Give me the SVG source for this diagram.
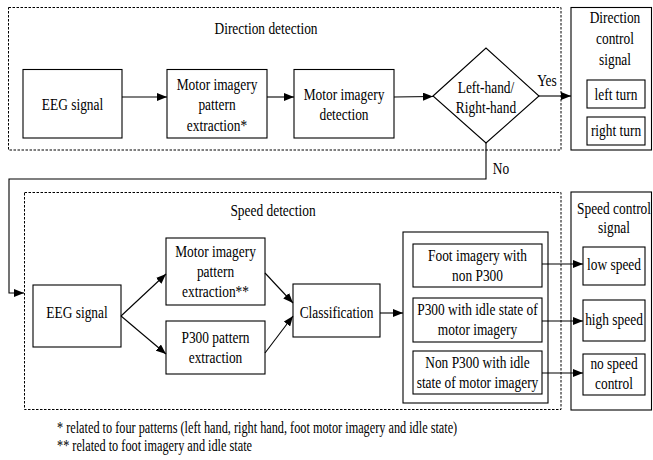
<svg xmlns="http://www.w3.org/2000/svg" width="653" height="460" viewBox="0 0 653 460">
<defs>
<style>
.bx{fill:#fff;stroke:#000;stroke-width:1.1}
.ds{fill:none;stroke:#000;stroke-width:1;stroke-dasharray:2.5 1.5}
.ln{fill:none;stroke:#000;stroke-width:1.1}
.t{font-family:'Liberation Serif',Tinos,'Times New Roman',serif;font-size:17.5px;fill:#000;text-anchor:middle}
.f{font-family:'Liberation Serif',Tinos,'Times New Roman',serif;font-size:16px;fill:#000}
</style>
<marker id="ah" markerWidth="10" markerHeight="8" refX="10" refY="4" orient="auto" markerUnits="userSpaceOnUse">
<path d="M0,0 L10,4 L0,8 Z" fill="#000"/>
</marker>
</defs>
<rect width="653" height="460" fill="#fff"/>

<g id="direction-detection">
<rect class="ds" x="8.5" y="7.5" width="552.5" height="142.5"/>
<text class="t" transform="translate(266 0) scale(0.766 1)"><tspan x="0" y="34">Direction detection</tspan></text>
</g>
<g id="speed-detection">
<rect class="ds" x="24.5" y="192.5" width="536.5" height="217"/>
<text class="t" transform="translate(273 0) scale(0.766 1)"><tspan x="0" y="216">Speed detection</tspan></text>
</g>

<g id="eeg-top">
<rect class="bx" x="23" y="69.5" width="99" height="68.5"/>
<text class="t" transform="translate(72.5 0) scale(0.766 1)"><tspan x="0" y="110">EEG signal</tspan></text>
</g>
<g id="mi-extraction-top">
<rect class="bx" x="167" y="69.5" width="100" height="68.5"/>
<text class="t" transform="translate(217 0) scale(0.766 1)"><tspan x="0" y="90">Motor imagery</tspan><tspan x="0" y="110.5">pattern</tspan><tspan x="0" y="131">extraction*</tspan></text>
</g>
<g id="mi-detection">
<rect class="bx" x="294" y="69.5" width="100" height="68.5"/>
<text class="t" transform="translate(344 0) scale(0.766 1)"><tspan x="0" y="100">Motor imagery</tspan><tspan x="0" y="120">detection</tspan></text>
</g>
<g id="decision">
<polygon class="bx" points="433,96 486,48 539,96 486,143"/>
<text class="t" transform="translate(486 0) scale(0.766 1)"><tspan x="0" y="93">Left-hand/</tspan><tspan x="0" y="113">Right-hand</tspan></text>
</g>
<g id="direction-control">
<rect class="bx" x="571" y="7.5" width="80.5" height="142.5"/>
<text class="t" transform="translate(615 0) scale(0.766 1)"><tspan x="0" y="23">Direction</tspan><tspan x="0" y="44">control</tspan><tspan x="0" y="65">signal</tspan></text>
<rect class="bx" x="587" y="80" width="58" height="28"/>
<text class="t" transform="translate(616 0) scale(0.766 1)"><tspan x="0" y="100">left turn</tspan></text>
<rect class="bx" x="587" y="117" width="58" height="28"/>
<text class="t" transform="translate(616 0) scale(0.766 1)"><tspan x="0" y="136">right turn</tspan></text>
</g>

<g id="eeg-bottom">
<rect class="bx" x="33" y="285" width="88" height="62"/>
<text class="t" transform="translate(77 0) scale(0.766 1)"><tspan x="0" y="318">EEG signal</tspan></text>
</g>
<g id="mi-extraction-bottom">
<rect class="bx" x="166" y="238" width="99" height="67"/>
<text class="t" transform="translate(215.5 0) scale(0.766 1)"><tspan x="0" y="257">Motor imagery</tspan><tspan x="0" y="277">pattern</tspan><tspan x="0" y="297">extraction**</tspan></text>
</g>
<g id="p300-extraction">
<rect class="bx" x="166" y="321" width="99" height="53"/>
<text class="t" transform="translate(215.5 0) scale(0.766 1)"><tspan x="0" y="343">P300 pattern</tspan><tspan x="0" y="363">extraction</tspan></text>
</g>
<g id="classification">
<rect class="bx" x="293" y="284" width="87" height="53"/>
<text class="t" transform="translate(336.5 0) scale(0.766 1)"><tspan x="0" y="318">Classification</tspan></text>
</g>
<g id="classes">
<rect class="bx" x="403" y="232" width="145" height="171"/>
<rect class="bx" x="413" y="244" width="129" height="43"/>
<text class="t" transform="translate(477.5 0) scale(0.766 1)"><tspan x="0" y="261">Foot imagery with</tspan><tspan x="0" y="281">non P300</tspan></text>
<rect class="bx" x="413" y="298" width="129" height="44"/>
<text class="t" transform="translate(477.5 0) scale(0.766 1)"><tspan x="0" y="315">P300 with idle state of</tspan><tspan x="0" y="335">motor imagery</tspan></text>
<rect class="bx" x="413" y="351" width="129" height="43"/>
<text class="t" transform="translate(477.5 0) scale(0.766 1)"><tspan x="0" y="368">Non P300 with idle</tspan><tspan x="0" y="388">state of motor imagery</tspan></text>
</g>
<g id="speed-control">
<rect class="bx" x="571" y="192" width="80.5" height="218"/>
<text class="t" transform="translate(614 0) scale(0.766 1)"><tspan x="0" y="214">Speed control</tspan><tspan x="0" y="233">signal</tspan></text>
<rect class="bx" x="583" y="247" width="62" height="38"/>
<text class="t" transform="translate(614 0) scale(0.766 1)"><tspan x="0" y="270">low speed</tspan></text>
<rect class="bx" x="583" y="300" width="62" height="41"/>
<text class="t" transform="translate(614 0) scale(0.766 1)"><tspan x="0" y="325">high speed</tspan></text>
<rect class="bx" x="583" y="354" width="62" height="41"/>
<text class="t" transform="translate(614 0) scale(0.766 1)"><tspan x="0" y="369">no speed</tspan><tspan x="0" y="389">control</tspan></text>
</g>

<g id="connectors">
<line class="ln" x1="122" y1="97" x2="167" y2="97" marker-end="url(#ah)"/>
<line class="ln" x1="267" y1="97" x2="294" y2="97" marker-end="url(#ah)"/>
<line class="ln" x1="394" y1="97" x2="433" y2="96.5" marker-end="url(#ah)"/>
<line class="ln" x1="539" y1="96" x2="571" y2="96" marker-end="url(#ah)"/>
<polyline class="ln" points="486,143 486,179 9,179 9,293 24,293" marker-end="url(#ah)"/>
<line class="ln" x1="121" y1="316" x2="166" y2="274" marker-end="url(#ah)"/>
<line class="ln" x1="121" y1="316" x2="166" y2="354" marker-end="url(#ah)"/>
<line class="ln" x1="265" y1="273" x2="293" y2="303" marker-end="url(#ah)"/>
<line class="ln" x1="265" y1="353" x2="293" y2="316" marker-end="url(#ah)"/>
<line class="ln" x1="380" y1="313" x2="403" y2="313" marker-end="url(#ah)"/>
<line class="ln" x1="542" y1="264" x2="583" y2="264" marker-end="url(#ah)"/>
<line class="ln" x1="542" y1="321" x2="583" y2="321" marker-end="url(#ah)"/>
<line class="ln" x1="542" y1="373" x2="583" y2="373" marker-end="url(#ah)"/>
<text class="t" transform="translate(547 0) scale(0.766 1)"><tspan x="0" y="86">Yes</tspan></text>
<text class="t" transform="translate(501 0) scale(0.766 1)"><tspan x="0" y="174">No</tspan></text>
</g>

<g id="footnotes">
<text class="f" transform="translate(57 0) scale(0.766 1)"><tspan x="0" y="433">* related to four patterns (left hand, right hand, foot motor imagery and idle state)</tspan></text>
<text class="f" transform="translate(57 0) scale(0.766 1)"><tspan x="0" y="451">** related to foot imagery and idle state</tspan></text>
</g>
</svg>
